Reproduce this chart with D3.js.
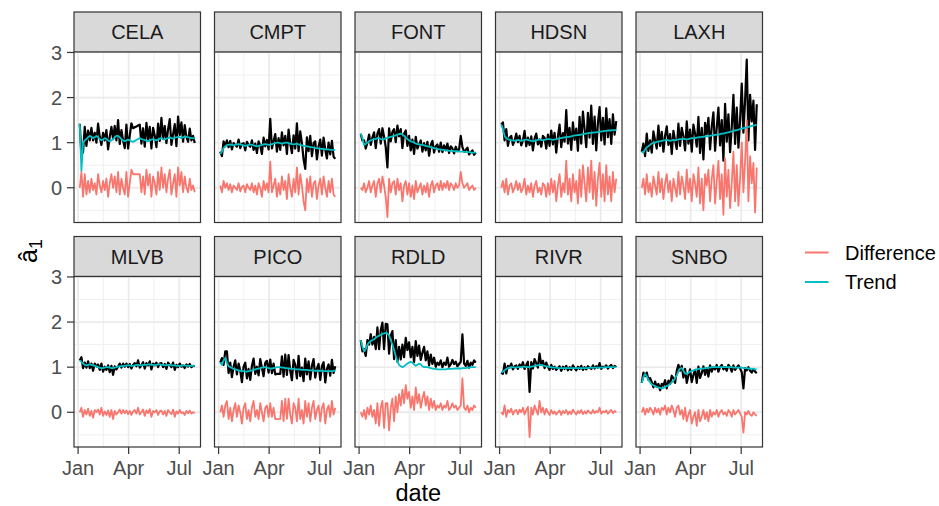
<!DOCTYPE html>
<html>
<head>
<meta charset="utf-8">
<script src="https://cdn.jsdelivr.net/npm/d3@7/dist/d3.min.js"></script>
<style>
body { margin: 0; background: #fff; }
text { font-family: "Liberation Sans", Arial, sans-serif; }
</style>
</head>
<body>
<svg id="chart" width="939" height="506"></svg>
<script>

// sites, in facet order
var sites = ["CELA", "CMPT", "FONT", "HDSN", "LAXH", "MLVB", "PICO", "RDLD", "RIVR", "SNBO"];

// one value every 3 days, 2020-01-04 .. 2020-07-29
var startDate = new Date(2020, 0, 4);
var nPoints = 70;

var yTicks = [0, 1, 2, 3];
var legendLabels = ["Difference", "Trend"];

// trend (cyan) and difference (red)
var celaTrend = [1.42, 0.38, 1.0, 1.05, 1.08, 1.12, 1.15, 1.13, 1.1, 1.12,
    1.15, 1.12, 1.08, 1.05, 1.07, 1.1, 1.08, 1.05, 1.03, 1.05,
    1.08, 1.12, 1.15, 1.15, 1.12, 1.08, 1.05, 1.03, 1.05, 1.07,
    1.05, 1.03, 1.02, 1.04, 1.06, 1.08, 1.1, 1.08, 1.07, 1.06,
    1.04, 1.03, 1.05, 1.07, 1.08, 1.06, 1.05, 1.07, 1.09, 1.1,
    1.08, 1.07, 1.09, 1.1, 1.12, 1.1, 1.09, 1.11, 1.12, 1.13,
    1.12, 1.1, 1.12, 1.14, 1.13, 1.12, 1.11, 1.1, 1.1, 1.09];
var celaDiff = [0.0, 0.35, -0.2, 0.3, -0.15, 0.15, -0.1, 0.2, -0.05, 0.1,
    -0.15, 0.3, 0.05, -0.1, 0.15, -0.05, 0.2, -0.2, 0.1, 0.3,
    0.0, 0.25, -0.1, 0.35, -0.15, 0.2, 0.0, -0.15, 0.35, -0.2,
    0.1, 0.4, 0.3, 0.3, 0.3, 0.3, 0.3, -0.1, 0.25, -0.15,
    0.4, 0.05, 0.3, -0.2, 0.25, 0.1, -0.15, 0.35, -0.05, 0.45,
    0.0, 0.3, -0.1, 0.2, 0.4, -0.15, 0.1, 0.3, -0.2, 0.45,
    0.05, 0.35, -0.1, 0.25, 0.0, -0.1, 0.2, -0.05, 0.05, -0.1];

var cmptTrend = [0.75, 0.8, 0.88, 0.92, 0.95, 0.95, 0.96, 0.95, 0.94, 0.95,
    0.96, 0.97, 0.96, 0.95, 0.94, 0.93, 0.94, 0.95, 0.96, 0.95,
    0.94, 0.93, 0.92, 0.93, 0.94, 0.95, 0.96, 0.97, 0.96, 0.95,
    0.95, 0.97, 0.98, 0.99, 1.0, 1.0, 0.99, 0.98, 0.99, 1.0,
    1.0, 0.99, 0.98, 0.97, 0.96, 0.97, 0.98, 0.96, 0.95, 0.94,
    0.93, 0.92, 0.92, 0.91, 0.9, 0.9, 0.89, 0.88, 0.88, 0.87,
    0.87, 0.86, 0.86, 0.85, 0.85, 0.85, 0.84, 0.84, 0.84, 0.84];
var cmptDiff = [0.05, -0.1, 0.15, 0.0, 0.1, -0.05, 0.08, -0.1, 0.05, 0.0,
    -0.05, 0.1, -0.08, 0.02, 0.05, -0.1, 0.08, 0.0, -0.05, 0.1,
    -0.1, 0.05, -0.15, 0.1, 0.0, -0.2, 0.15, -0.05, 0.1, -0.1,
    0.58, -0.1, 0.05, 0.2, -0.2, 0.1, -0.15, 0.25, -0.05, 0.15,
    -0.25, 0.3, 0.0, -0.2, 0.2, -0.1, 0.45, -0.15, 0.3, 0.05,
    -0.3, -0.5, 0.2, -0.1, 0.25, -0.2, 0.1, 0.15, -0.25, 0.05,
    0.2, -0.15, 0.25, 0.0, -0.2, 0.15, -0.1, 0.2, -0.15, -0.2];

var fontTrend = [1.2, 1.1, 0.95, 0.97, 1.0, 1.03, 1.05, 1.07, 1.08, 1.08,
    1.1, 1.1, 1.08, 1.07, 1.08, 1.1, 1.1, 1.12, 1.13, 1.14,
    1.15, 1.16, 1.18, 1.19, 1.2, 1.18, 1.15, 1.12, 1.08, 1.05,
    1.03, 1.02, 1.0, 0.98, 0.97, 0.96, 0.95, 0.95, 0.94, 0.93,
    0.92, 0.91, 0.9, 0.89, 0.88, 0.87, 0.86, 0.85, 0.85, 0.84,
    0.84, 0.83, 0.83, 0.82, 0.82, 0.82, 0.81, 0.81, 0.81, 0.8,
    0.8, 0.8, 0.8, 0.79, 0.79, 0.79, 0.78, 0.78, 0.78, 0.78];
var fontDiff = [0.0, -0.05, 0.1, -0.1, 0.0, 0.15, -0.1, 0.05, 0.15, -0.2,
    0.1, 0.2, -0.1, 0.25, 0.05, -0.2, -0.65, 0.2, -0.1, 0.1,
    0.15, -0.15, 0.2, -0.05, 0.1, -0.3, 0.05, 0.15, -0.15, 0.1,
    -0.2, 0.05, -0.25, 0.15, -0.1, 0.0, 0.1, -0.15, 0.05, -0.1,
    0.1, -0.2, 0.05, 0.15, -0.1, 0.05, 0.1, -0.05, 0.15, -0.05,
    0.1, 0.0, 0.15, -0.05, 0.1, 0.05, -0.05, 0.1, 0.0, 0.05,
    0.35, 0.1, 0.0, 0.05, 0.1, -0.05, 0.0, 0.05, -0.05, 0.0];

var hdsnTrend = [1.4, 1.3, 1.15, 1.1, 1.08, 1.06, 1.05, 1.05, 1.04, 1.05,
    1.06, 1.05, 1.04, 1.05, 1.06, 1.07, 1.06, 1.05, 1.04, 1.03,
    1.04, 1.05, 1.06, 1.07, 1.06, 1.05, 1.06, 1.07, 1.08, 1.08,
    1.07, 1.06, 1.07, 1.08, 1.09, 1.1, 1.1, 1.11, 1.12, 1.12,
    1.13, 1.13, 1.14, 1.15, 1.16, 1.16, 1.17, 1.17, 1.18, 1.19,
    1.2, 1.2, 1.21, 1.21, 1.22, 1.22, 1.23, 1.23, 1.24, 1.24,
    1.25, 1.25, 1.26, 1.26, 1.27, 1.27, 1.27, 1.28, 1.28, 1.28];
var hdsnDiff = [0.0, 0.15, -0.1, 0.2, -0.15, 0.05, 0.1, -0.1, 0.0, 0.15,
    -0.05, 0.1, -0.1, 0.0, 0.2, -0.15, 0.05, -0.1, 0.1, -0.2,
    0.05, 0.15, -0.1, 0.0, -0.15, 0.1, 0.05, -0.2, 0.1, -0.15,
    0.2, -0.1, 0.15, -0.3, 0.05, 0.3, -0.2, 0.1, -0.1, 0.6,
    -0.15, 0.2, -0.3, 0.3, -0.1, 0.15, -0.35, 0.4, -0.2, 0.5,
    0.1, -0.3, 0.45, -0.1, 0.6, -0.25, 0.35, -0.4, 0.2, 0.55,
    -0.2, 0.3, -0.3, 0.5, -0.15, 0.25, -0.3, 0.35, -0.1, 0.2];

var laxhTrend = [0.8, 0.78, 0.85, 0.9, 0.92, 0.95, 0.98, 1.0, 1.0, 1.02,
    1.03, 1.03, 1.04, 1.05, 1.05, 1.06, 1.05, 1.04, 1.05, 1.06,
    1.05, 1.06, 1.07, 1.08, 1.08, 1.09, 1.08, 1.07, 1.08, 1.09,
    1.1, 1.1, 1.1, 1.11, 1.12, 1.12, 1.13, 1.13, 1.14, 1.14,
    1.15, 1.15, 1.16, 1.17, 1.17, 1.18, 1.18, 1.19, 1.2, 1.2,
    1.21, 1.22, 1.23, 1.24, 1.25, 1.26, 1.27, 1.28, 1.29, 1.3,
    1.31, 1.32, 1.33, 1.34, 1.35, 1.36, 1.37, 1.38, 1.39, 1.4];
var laxhDiff = [0.0, 0.2, -0.15, 0.3, -0.1, 0.1, -0.2, 0.25, 0.05, -0.15,
    0.35, -0.1, 0.2, -0.25, 0.1, 0.3, -0.1, 0.15, -0.3, 0.2,
    0.0, -0.2, 0.35, -0.15, 0.25, 0.05, -0.25, 0.4, -0.1, 0.2,
    -0.3, 0.3, 0.1, -0.2, 0.45, -0.35, 0.2, -0.5, 0.3, 0.05,
    0.4, -0.3, 0.2, 0.5, -0.35, 0.15, 0.6, -0.25, 0.3, -0.6,
    0.65, -0.2, 0.4, -0.45, 0.1, 0.8, -0.3, 0.5, -0.4, 0.2,
    1.0, -0.1, 0.6, 1.5, -0.3, 0.7, 0.1, 0.55, -0.55, 0.45];

var mlvbTrend = [1.15, 1.12, 1.08, 1.05, 1.04, 1.05, 1.06, 1.05, 1.04, 1.03,
    1.02, 1.0, 0.99, 0.98, 0.98, 0.99, 1.0, 1.0, 0.99, 0.98,
    0.98, 0.99, 1.0, 1.01, 1.02, 1.02, 1.03, 1.03, 1.04, 1.04,
    1.04, 1.03, 1.03, 1.04, 1.05, 1.05, 1.04, 1.04, 1.05, 1.05,
    1.05, 1.06, 1.06, 1.05, 1.05, 1.04, 1.05, 1.06, 1.06, 1.05,
    1.05, 1.04, 1.04, 1.05, 1.05, 1.04, 1.04, 1.04, 1.03, 1.03,
    1.03, 1.03, 1.04, 1.04, 1.03, 1.03, 1.03, 1.03, 1.03, 1.03];
var mlvbDiff = [0.0, 0.1, -0.1, 0.05, -0.05, 0.08, -0.08, 0.03, -0.12, 0.05,
    0.0, 0.06, -0.05, 0.1, -0.08, 0.02, -0.06, 0.04, -0.1, 0.05,
    -0.15, 0.03, -0.05, 0.0, 0.06, -0.03, 0.05, -0.02, 0.04, -0.04,
    0.03, -0.06, 0.02, 0.05, -0.03, 0.1, -0.05, 0.0, 0.06, -0.08,
    0.04, -0.02, 0.07, -0.1, 0.03, 0.0, 0.05, -0.06, 0.02, 0.04,
    -0.05, 0.03, -0.08, 0.05, 0.0, -0.04, 0.06, -0.1, 0.02, -0.03,
    0.05, -0.02, 0.0, -0.06, 0.03, -0.02, 0.04, -0.03, 0.0, -0.01];

var picoTrend = [1.1, 1.05, 1.15, 1.2, 1.1, 1.02, 1.0, 0.98, 0.96, 0.95,
    0.94, 0.93, 0.92, 0.92, 0.91, 0.9, 0.9, 0.91, 0.92, 0.93,
    0.94, 0.95, 0.96, 0.97, 0.98, 0.99, 1.0, 1.0, 0.99, 0.98,
    0.97, 0.97, 0.98, 0.99, 1.0, 1.0, 1.0, 0.99, 0.99, 0.98,
    0.98, 0.97, 0.97, 0.96, 0.96, 0.95, 0.95, 0.95, 0.95, 0.94,
    0.94, 0.94, 0.94, 0.93, 0.93, 0.93, 0.93, 0.92, 0.92, 0.92,
    0.92, 0.92, 0.91, 0.91, 0.91, 0.91, 0.91, 0.91, 0.92, 0.92];
var picoDiff = [0.0, 0.15, -0.1, 0.15, 0.25, -0.15, 0.1, -0.2, 0.05, 0.2,
    -0.1, 0.15, 0.0, -0.25, 0.1, 0.2, -0.15, 0.05, -0.2, 0.1,
    0.25, -0.1, 0.05, -0.15, 0.2, 0.0, -0.2, 0.1, 0.15, -0.1,
    0.2, -0.1, 0.1, -0.15, -0.15, -0.15, -0.15, 0.25, -0.2, 0.3,
    -0.15, 0.3, -0.05, -0.25, 0.2, 0.1, -0.2, 0.3, -0.15, 0.05,
    -0.25, 0.25, -0.1, 0.2, -0.2, 0.1, 0.25, -0.15, 0.05, 0.15,
    -0.2, 0.1, 0.2, -0.25, 0.05, 0.15, -0.1, 0.25, -0.05, 0.1];

var rdldTrend = [1.6, 1.45, 1.35, 1.4, 1.5, 1.55, 1.58, 1.6, 1.62, 1.65,
    1.68, 1.7, 1.72, 1.74, 1.75, 1.76, 1.75, 1.7, 1.6, 1.5,
    1.38, 1.25, 1.12, 1.05, 1.02, 1.0, 1.02, 1.05, 1.08, 1.1,
    1.12, 1.1, 1.06, 1.03, 1.05, 1.08, 1.06, 1.02, 1.0, 1.0,
    1.0, 0.99, 0.98, 0.97, 0.96, 0.96, 0.95, 0.95, 0.95, 0.95,
    0.95, 0.95, 0.96, 0.96, 0.96, 0.96, 0.97, 0.97, 0.97, 0.97,
    0.97, 0.98, 0.98, 0.98, 0.99, 0.99, 1.0, 1.0, 1.0, 1.0];
var rdldDiff = [0.0, -0.1, 0.05, -0.15, 0.1, -0.05, 0.15, -0.1, 0.05, -0.25,
    0.2, -0.3, 0.1, 0.25, -0.35, 0.2, 0.2, -0.4, 0.1, 0.3,
    -0.2, 0.35, 0.0, 0.4, 0.15, 0.5, 0.2, 0.6, 0.3, 0.45,
    0.1, 0.35, 0.05, 0.55, 0.2, 0.4, 0.1, 0.3, 0.45, 0.15,
    0.35, 0.05, 0.3, 0.1, 0.25, 0.05, 0.15, 0.1, 0.2, 0.05,
    0.15, 0.1, 0.25, 0.05, 0.1, 0.2, 0.1, 0.15, 0.05, 0.1,
    0.15, 0.75, 0.1, 0.05, 0.15, 0.0, 0.1, 0.05, 0.15, 0.1];

var rivrTrend = [0.88, 0.9, 0.93, 0.96, 0.98, 0.99, 1.0, 1.0, 0.99, 0.99,
    1.0, 1.0, 1.0, 1.01, 1.01, 1.0, 1.0, 1.0, 1.01, 1.02,
    1.03, 1.04, 1.04, 1.05, 1.05, 1.04, 1.03, 1.02, 1.01, 1.0,
    1.0, 0.99, 0.99, 0.99, 0.98, 0.98, 0.98, 0.98, 0.98, 0.98,
    0.98, 0.98, 0.98, 0.98, 0.98, 0.98, 0.98, 0.98, 0.98, 0.98,
    0.98, 0.98, 0.98, 0.99, 0.99, 0.99, 0.99, 0.99, 0.99, 0.99,
    0.99, 0.99, 1.0, 1.0, 1.0, 1.0, 1.0, 1.0, 1.0, 1.0];
var rivrDiff = [0.0, -0.05, 0.15, -0.1, 0.05, 0.0, 0.08, -0.05, 0.03, 0.05,
    -0.04, 0.06, 0.0, 0.1, -0.05, 0.05, 0.12, -0.55, 0.1, -0.05,
    0.15, 0.05, -0.05, 0.25, 0.0, 0.1, -0.05, 0.08, 0.0, -0.06,
    0.05, -0.03, 0.02, -0.05, 0.0, 0.04, -0.06, 0.03, -0.02, 0.05,
    -0.05, 0.02, -0.04, 0.06, 0.0, -0.05, 0.03, -0.02, 0.05, -0.04,
    0.02, -0.03, 0.04, 0.0, -0.03, 0.05, -0.02, 0.03, 0.0, 0.1,
    -0.03, 0.02, 0.0, 0.04, -0.03, 0.02, 0.05, -0.02, 0.03, 0.0];

var snboTrend = [0.65, 0.78, 0.85, 0.8, 0.72, 0.66, 0.62, 0.6, 0.58, 0.56,
    0.55, 0.54, 0.53, 0.54, 0.56, 0.58, 0.6, 0.63, 0.66, 0.7,
    0.75, 0.82, 0.9, 0.97, 0.98, 0.92, 0.86, 0.85, 0.87, 0.9,
    0.92, 0.93, 0.94, 0.95, 0.96, 0.96, 0.97, 0.97, 0.98, 0.98,
    0.99, 0.99, 1.0, 1.0, 1.0, 1.0, 1.0, 1.0, 1.0, 1.0,
    1.0, 1.0, 1.0, 1.0, 1.0, 0.99, 0.99, 0.99, 0.99, 0.99,
    0.99, 0.98, 0.98, 0.98, 0.97, 0.97, 0.96, 0.96, 0.95, 0.95];
var snboDiff = [0.0, 0.1, -0.05, 0.08, 0.0, 0.1, 0.05, -0.05, 0.1, 0.0,
    0.08, -0.05, 0.1, 0.05, 0.15, -0.05, 0.1, 0.0, 0.15, 0.05,
    -0.1, 0.1, 0.15, -0.05, 0.05, -0.15, 0.1, -0.2, -0.05, 0.05,
    -0.25, -0.1, 0.0, -0.3, 0.05, -0.2, -0.1, 0.05, -0.15, 0.0,
    -0.2, 0.05, -0.1, 0.0, -0.05, 0.05, -0.1, 0.0, 0.05, -0.05,
    0.0, -0.08, 0.05, 0.0, -0.1, 0.05, -0.05, 0.0, 0.05, -0.02,
    -0.1, -0.45, 0.0, -0.05, 0.03, -0.05, -0.08, 0.0, -0.05, -0.08];

var trends = [celaTrend, cmptTrend, fontTrend, hdsnTrend, laxhTrend,
    mlvbTrend, picoTrend, rdldTrend, rivrTrend, snboTrend];
var diffs = [celaDiff, cmptDiff, fontDiff, hdsnDiff, laxhDiff,
    mlvbDiff, picoDiff, rdldDiff, rivrDiff, snboDiff];

var dates = d3.range(nPoints).map(function(i) { return d3.timeDay.offset(startDate, 3 * i); });

var red = "#F8766D";
var cyan = "#00BFC4";

var panelLeft = 74, panelTop = 12;
var panelW = 126.5, panelH = 170.5, stripH = 40;
var gapX = 14, gapY = 14;
var nCols = 5;

var svg = d3.select("#chart");
svg.append("rect").attr("width", 939).attr("height", 506).attr("fill", "white");

// time scale with ggplot-style 5% padding
var ext = d3.extent(dates);
var span = ext[1] - ext[0];
var x = d3.scaleTime()
    .domain([new Date(+ext[0] - 0.05 * span), new Date(+ext[1] + 0.05 * span)])
    .range([0, panelW]);

var y = d3.scaleLinear()
    .domain([-0.77, 3.01])
    .range([panelH, 0]);

var majorX = x.ticks(d3.timeMonth.every(3));
var allMajor = d3.timeMonth.every(3).range(d3.timeMonth.offset(x.domain()[0], -3), d3.timeMonth.offset(x.domain()[1], 3));
var minorX = [];
for (var k = 0; k < allMajor.length - 1; k++) {
    var mid = new Date((+allMajor[k] + +allMajor[k + 1]) / 2);
    if (mid >= x.domain()[0] && mid <= x.domain()[1]) minorX.push(mid);
}
var minorY = [-0.5, 0.5, 1.5, 2.5];

var lineFn = d3.line()
    .x(function(d) { return x(d.date); })
    .y(function(d) { return y(d.v); });

svg.append("defs").append("clipPath").attr("id", "clip")
    .append("rect").attr("width", panelW).attr("height", panelH);

sites.forEach(function(site, s) {
    var col = s % nCols, row = Math.floor(s / nCols);
    var px = panelLeft + col * (panelW + gapX);
    var py = panelTop + row * (stripH + panelH + gapY);

    // strip
    var strip = svg.append("g").attr("transform", "translate(" + px + "," + py + ")");
    strip.append("rect")
        .attr("width", panelW).attr("height", stripH)
        .attr("fill", "#D9D9D9").attr("stroke", "#333333").attr("stroke-width", 1.2);
    strip.append("text")
        .attr("x", panelW / 2).attr("y", stripH / 2)
        .attr("dy", "0.35em")
        .attr("text-anchor", "middle")
        .attr("font-size", "20px")
        .attr("fill", "#1A1A1A")
        .text(site);

    var g = svg.append("g").attr("transform", "translate(" + px + "," + (py + stripH) + ")");

    // grid
    g.selectAll(".minor-y").data(minorY).enter().append("line")
        .attr("x1", 0).attr("x2", panelW)
        .attr("y1", function(d) { return y(d); }).attr("y2", function(d) { return y(d); })
        .attr("stroke", "#F0F0F0").attr("stroke-width", 1);
    g.selectAll(".minor-x").data(minorX).enter().append("line")
        .attr("y1", 0).attr("y2", panelH)
        .attr("x1", function(d) { return x(d); }).attr("x2", function(d) { return x(d); })
        .attr("stroke", "#F0F0F0").attr("stroke-width", 1);
    g.selectAll(".major-y").data(yTicks).enter().append("line")
        .attr("x1", 0).attr("x2", panelW)
        .attr("y1", function(d) { return y(d); }).attr("y2", function(d) { return y(d); })
        .attr("stroke", "#EBEBEB").attr("stroke-width", 1.8);
    g.selectAll(".major-x").data(majorX).enter().append("line")
        .attr("y1", 0).attr("y2", panelH)
        .attr("x1", function(d) { return x(d); }).attr("x2", function(d) { return x(d); })
        .attr("stroke", "#EBEBEB").attr("stroke-width", 1.8);

    // observed = trend + difference
    var trend = trends[s], diff = diffs[s];
    var obsData = dates.map(function(d, i) { return {date: d, v: trend[i] + diff[i]}; });
    var diffData = dates.map(function(d, i) { return {date: d, v: diff[i]}; });
    var trendData = dates.map(function(d, i) { return {date: d, v: trend[i]}; });

    var lines = g.append("g").attr("clip-path", "url(#clip)");
    lines.append("path").datum(obsData)
        .attr("d", lineFn).attr("fill", "none")
        .attr("stroke", "black").attr("stroke-width", 2.2).attr("stroke-linejoin", "round");
    lines.append("path").datum(diffData)
        .attr("d", lineFn).attr("fill", "none")
        .attr("stroke", red).attr("stroke-width", 1.8).attr("stroke-linejoin", "round");
    lines.append("path").datum(trendData)
        .attr("d", lineFn).attr("fill", "none")
        .attr("stroke", cyan).attr("stroke-width", 1.8).attr("stroke-linejoin", "round");

    g.append("rect")
        .attr("width", panelW).attr("height", panelH)
        .attr("fill", "none").attr("stroke", "#333333").attr("stroke-width", 1.2);

    // y axis on first column
    if (col == 0) {
        var ya = g.append("g");
        ya.selectAll("line").data(yTicks).enter().append("line")
            .attr("x1", -7).attr("x2", 0)
            .attr("y1", function(d) { return y(d); }).attr("y2", function(d) { return y(d); })
            .attr("stroke", "#333333").attr("stroke-width", 1.2);
        ya.selectAll("text").data(yTicks).enter().append("text")
            .attr("x", -12).attr("y", function(d) { return y(d); })
            .attr("dy", "0.36em")
            .attr("text-anchor", "end")
            .attr("font-size", "20px")
            .attr("fill", "#4D4D4D")
            .text(function(d) { return d; });
    }

    // x axis on bottom row
    if (row == 1) {
        var xa = g.append("g").attr("transform", "translate(0," + panelH + ")");
        xa.selectAll("line").data(majorX).enter().append("line")
            .attr("x1", function(d) { return x(d); }).attr("x2", function(d) { return x(d); })
            .attr("y1", 0).attr("y2", 7)
            .attr("stroke", "#333333").attr("stroke-width", 1.2);
        xa.selectAll("text").data(majorX).enter().append("text")
            .attr("x", function(d) { return x(d); })
            .attr("y", 28)
            .attr("text-anchor", "middle")
            .attr("font-size", "20px")
            .attr("fill", "#4D4D4D")
            .text(function(d) { return d3.timeFormat("%b")(d); });
    }
});

// axis titles
var plotRight = panelLeft + nCols * panelW + (nCols - 1) * gapX;
svg.append("text")
    .attr("x", (panelLeft + plotRight) / 2).attr("y", 500.5)
    .attr("text-anchor", "middle")
    .attr("font-size", "23.5px")
    .attr("fill", "black")
    .text("date");

var ylab = svg.append("text")
    .attr("transform", "translate(37,251) rotate(-90)")
    .attr("text-anchor", "middle")
    .attr("font-size", "25px")
    .attr("fill", "black");
ylab.append("tspan").text("\u00E2");
ylab.append("tspan").attr("font-size", "18px").attr("dy", "0.3em").text("1");

// legend
var legend = svg.append("g").attr("transform", "translate(805,252.5)");
[red, cyan].forEach(function(c, i) {
    legend.append("line")
        .attr("x1", 0).attr("x2", 23.5)
        .attr("y1", i * 29.5).attr("y2", i * 29.5)
        .attr("stroke", c).attr("stroke-width", 2);
    legend.append("text")
        .attr("x", 40).attr("y", i * 29.5)
        .attr("dy", "0.36em")
        .attr("font-size", "20px")
        .attr("fill", "black")
        .text(legendLabels[i]);
});

</script>
</body>
</html>
